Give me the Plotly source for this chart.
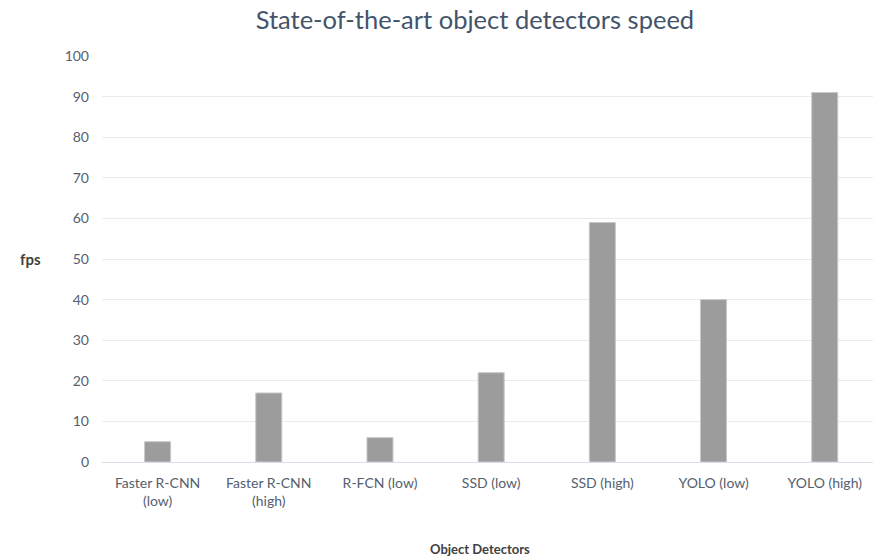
import plotly.graph_objects as go

categories = ["Faster R-CNN<br>(low)", "Faster R-CNN<br>(high)", "R-FCN (low)",
              "SSD (low)", "SSD (high)", "YOLO (low)", "YOLO (high)"]
fps = [5, 17, 6, 22, 59, 40, 91]
y_ticks = list(range(0, 101, 10))

title_text = "State-of-the-art object detectors speed"
y_title = "fps"
x_title = "Object Detectors"

FONT = "Lato, 'Open Sans', sans-serif"
TICK_COLOR = "#56606e"

fig = go.Figure(go.Bar(
    x=categories, y=fps,
    width=0.234,
    marker=dict(color="#9c9c9c", line=dict(color="#c8c8c8", width=1)),
    hoverinfo="x+y",
))

fig.update_layout(
    width=873, height=558,
    margin=dict(l=102, r=0, t=56, b=96),
    paper_bgcolor="white", plot_bgcolor="white",
    showlegend=False,
    font=dict(family=FONT, color=TICK_COLOR, size=14),
    title=dict(text=title_text, x=0.544, xanchor="center", y=0.964, yanchor="middle",
               font=dict(family=FONT, size=25.5, color="#44546a")),
    xaxis=dict(range=[-0.5, 6.434], showgrid=False, showline=True, linecolor="#d9dfe8",
               linewidth=1, ticks="", tickfont=dict(size=14, color=TICK_COLOR),
               ticklabelstandoff=8, fixedrange=True),
    yaxis=dict(range=[0, 100], tickvals=y_ticks, showgrid=True, gridcolor="#e8ebf0",
               gridwidth=1, zeroline=False, showline=False, ticks="",
               tickfont=dict(size=14, color=TICK_COLOR), ticklabelstandoff=12,
               fixedrange=True),
    annotations=[
        dict(text="<b>" + y_title + "</b>", xref="paper", yref="paper", x=-0.0765,
             y=0.5, xanchor="right", yanchor="middle", showarrow=False,
             font=dict(family=FONT, size=15, color="#404040")),
        dict(text="<b>" + x_title + "</b>", xref="paper", yref="paper", x=0.49,
             y=-0.214, xanchor="center", yanchor="middle", showarrow=False,
             font=dict(family=FONT, size=13, color="#404040")),
    ],
)

fig.write_html("out.html",
               config={"displayModeBar": False},
               post_script="document.body.style.margin='0';document.body.style.overflow='hidden';")
